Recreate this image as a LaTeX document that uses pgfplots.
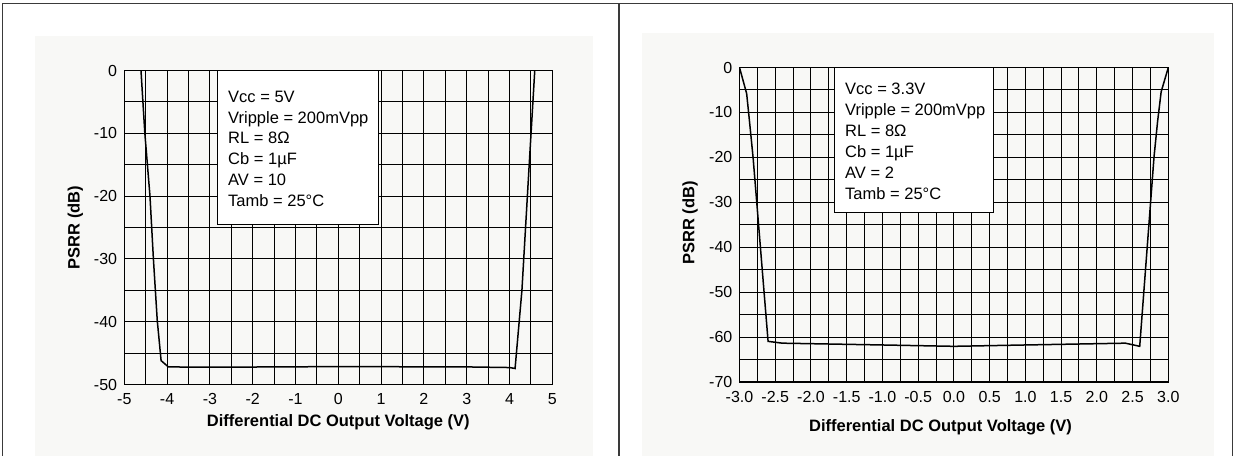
\documentclass[border=0pt]{standalone}
\usepackage{pgfplots}
\pgfplotsset{compat=1.18}
\usepackage{fontspec}
\setmainfont{Liberation Sans}
\definecolor{panelgray}{RGB}{248,248,246}
\definecolor{framegray}{RGB}{58,58,58}

\pgfplotsset{psrr/.style={
    scale only axis,
    grid=both,
    major grid style={black, line width=1bp},
    minor grid style={black, line width=1bp},
    axis line style={black, line width=1.6bp},
    tick style={draw=none},
    minor x tick num=1, minor y tick num=1,
    /pgf/number format/assume math mode=true,
    tick label style={font=\fontsize{16bp}{18bp}\selectfont, inner sep=0pt},
    xticklabel style={yshift=-9bp},
    yticklabel style={xshift=-7bp},
    label style={font=\fontsize{16.5bp}{19bp}\selectfont\bfseries, anchor=center},
    ylabel={PSRR (dB)},
    xlabel={Differential DC Output Voltage (V)},
}}

\begin{document}
\begin{tikzpicture}
% panels
\fill[panelgray] (35bp,0bp) rectangle (593bp,420.3bp);
\fill[panelgray] (642bp,0bp) rectangle (1214bp,423bp);
\draw[framegray, line width=1.5bp] (2.5bp,-2bp) -- (2.5bp,452.7bp) -- (1232.5bp,452.7bp) -- (1232.5bp,-2bp);
\draw[framegray, line width=1.5bp] (619bp,-2bp) -- (619bp,452.7bp);

% Vcc = 5 V
\begin{axis}[psrr,
    at={(124.3bp,71.5bp)}, anchor=south west,
    width=428bp, height=314bp,
    xmin=-5, xmax=5, ymin=-50, ymax=0,
    xtick={-5,-4,...,5}, ytick={-50,-40,...,0},
    xlabel style={at={(axis description cs:0.5,-0.1194)}},
    ylabel style={at={(axis description cs:-0.1145,0.5)}},
]
\draw[fill=white, line width=1bp] (axis cs:-2.83,0) rectangle (axis cs:0.93,-24.5);
\node[anchor=north west, align=left, inner sep=0pt,
      font=\fontsize{16.5bp}{20.7bp}\selectfont]
  at (axis cs:-2.577,-3.26)
  {Vcc = 5V\\Vripple = 200mVpp\\RL = 8Ω\\Cb = 1µF\\AV = 10\\Tamb = 25°C};
\addplot[black, line width=1.5bp] coordinates {
  (-4.61,0) (-4.52,-10) (-4.40,-20) (-4.32,-30) (-4.23,-39.8) (-4.14,-46.2)
  (-3.97,-47.2) (-3,-47.25) (0,-47.15) (3,-47.2) (4.0,-47.3) (4.13,-47.45)
  (4.29,-35) (4.46,-15) (4.59,0)
};
\end{axis}

% Vcc = 3.3 V
\begin{axis}[psrr,
    at={(739.5bp,73.7bp)}, anchor=south west,
    width=428.8bp, height=314.8bp,
    xmin=-3, xmax=3, ymin=-70, ymax=0,
    xtick={-3,-2.5,...,3}, ytick={-70,-60,...,0},
    xticklabel={\pgfmathprintnumber[fixed, fixed zerofill, precision=1]{\tick}},
    xlabel style={at={(axis description cs:0.4688,-0.142)}},
    ylabel style={at={(axis description cs:-0.1154,0.506)}},
]
\draw[fill=white, line width=1bp] (axis cs:-1.668,0) rectangle (axis cs:0.551,-32.3);
\node[anchor=north west, align=left, inner sep=0pt,
      font=\fontsize{16.5bp}{21bp}\selectfont]
  at (axis cs:-1.524,-3.34)
  {Vcc = 3.3V\\Vripple = 200mVpp\\RL = 8Ω\\Cb = 1µF\\AV = 2\\Tamb = 25°C};
\addplot[black, line width=1.5bp] coordinates {
  (-3.0,0) (-2.90,-5.8) (-2.86,-12) (-2.81,-20) (-2.6,-60.9) (-2.4,-61.3)
  (-1.0,-61.7) (0,-62.0) (1.0,-61.7) (2.4,-61.3) (2.6,-62.0) (2.8,-19.9)
  (2.85,-12) (2.90,-5.4) (3.0,0)
};
\end{axis}
\pgfresetboundingbox
\useasboundingbox (0bp,0bp) rectangle (1235bp,456bp);
\end{tikzpicture}
\end{document}
